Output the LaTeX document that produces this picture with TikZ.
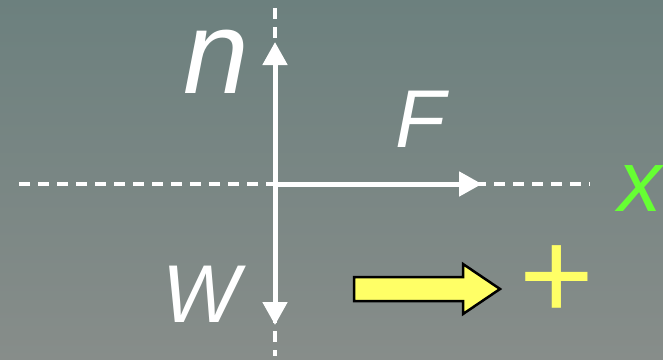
\documentclass[tikz,border=0pt]{standalone}
\usepackage{fontspec}
\setmainfont{Liberation Sans}
\usetikzlibrary{arrows.meta}

\definecolor{bgtop}{HTML}{6C807E}
\definecolor{bgbottom}{HTML}{878D8A}
\definecolor{axisgreen}{HTML}{66FF33}
\definecolor{signyellow}{HTML}{FFFF66}

\begin{document}
\begin{tikzpicture}[
            x=1pt, y=-1pt,
            >={Triangle[width=24pt,length=23pt]},
            % Eixos tracejados
            axisline/.style={
                draw=white,
                line width=3.5pt,
                dash pattern=on 11pt off 8pt
            },
            % Setas das forcas
            force/.style={
                draw=white,
                ->,
                line width=5pt
            },
            % Rotulos das forcas
            forcelabel/.style={
                text=white,
                inner sep=0pt,
                anchor=base,
                font=\itshape\fontsize{82}{82}\selectfont
            },
            % Seta amarela do sentido positivo
            signarrow/.style={
                draw=black,
                fill=signyellow,
                line width=2.5pt,
                line join=miter
            }
        ]

            % Fundo
            \useasboundingbox (0,0) rectangle (663,359);
            \shade [top color=bgtop, bottom color=bgbottom] (0,0) rectangle (663,359);

            % Pontos de referencia
            \coordinate (origin) at (275,184);
            \coordinate (ntip) at (275,42);
            \coordinate (wtip) at (275,325);
            \coordinate (ftip) at (482,184);
            \coordinate (xleft) at (19,184);
            \coordinate (xright) at (590,184);
            \coordinate (ytop) at (275,8);
            \coordinate (ybottom) at (275,356);

            % Eixos
            \draw [axisline] (xleft) -- (xright);
            \draw [axisline] (ytop) -- (ybottom);

            % Forcas
            \draw [force] (origin) -- (ntip);
            \draw [force] (origin) -- (wtip);
            \draw [force] (origin) -- (ftip);

            % Rotulos
            \node [forcelabel, font=\itshape\fontsize{118}{118}\selectfont] (nlabel) at (216,93) {n};
            \node [forcelabel] (flabel) at (421,147) {F};
            \node [forcelabel] (wlabel) at (201,322) {W};
            \node [forcelabel, text=axisgreen, font=\itshape\fontsize{87}{87}\selectfont] (xlabel) at (640,211) {x};

            % Sentido positivo
            \draw [signarrow] (354,277) -- (463,277) -- (463,264) -- (500,289)
                -- (463,314) -- (463,301) -- (354,301) -- cycle;
            \node [text=signyellow, inner sep=0pt, font=\fontsize{128}{128}\selectfont] (plus) at (557,282.5) {+};

        \end{tikzpicture}
\end{document}
